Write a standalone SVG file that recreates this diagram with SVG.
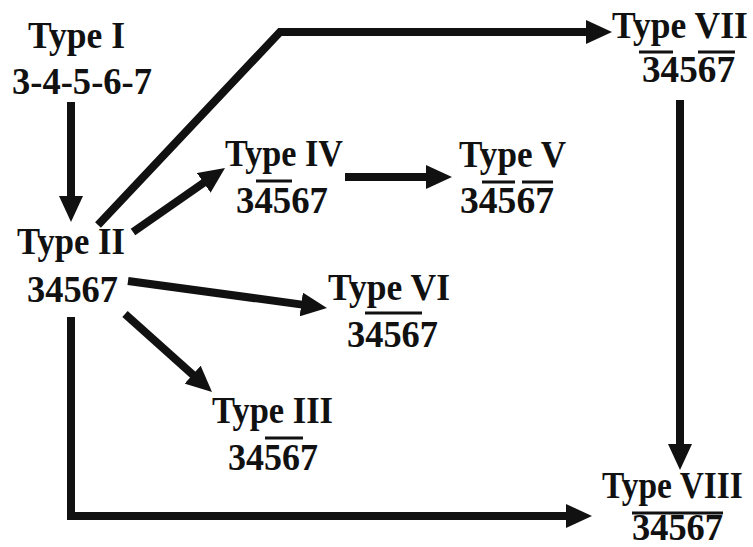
<svg xmlns="http://www.w3.org/2000/svg" width="753" height="547" viewBox="0 0 753 547">
<style>
text{font-family:"Liberation Serif","Times New Roman",serif;font-weight:bold;font-size:38px;fill:#111}
.ol{stroke:#111;stroke-width:3;fill:none}
.c{stroke:#111;stroke-width:8;fill:none;marker-end:url(#ah)}
</style>
<defs>
<marker id="ah" markerUnits="userSpaceOnUse" markerWidth="26" markerHeight="24" viewBox="0 0 26 24" refX="1" refY="12" orient="auto">
<path d="M0,0 L26,12 L0,24 z" fill="#111"/>
</marker>
</defs>
<rect width="753" height="547" fill="#fff"/>
<g id="connectors">
<path class="c" d="M71,102 L71,197"/>
<path class="c" d="M98,225 L280,32 L587,32"/>
<path class="c" d="M133,232 L204.5,182.3"/>
<path class="c" d="M345,177 L427,177"/>
<path class="c" d="M128,281 L302.2,304.6"/>
<path class="c" d="M125,314 L193.4,375.3"/>
<path class="c" d="M71,317 L71,516 L567,516"/>
<path class="c" d="M680,100 L680,445"/>
</g>
<g id="type1">
<text x="28" y="48" textLength="97" lengthAdjust="spacingAndGlyphs">Type I</text>
<text x="12" y="94" textLength="140" lengthAdjust="spacingAndGlyphs">3-4-5-6-7</text>
</g>
<g id="type2">
<text x="17" y="254" textLength="108" lengthAdjust="spacingAndGlyphs">Type II</text>
<text x="27" y="302" textLength="91" lengthAdjust="spacingAndGlyphs">34567</text>
</g>
<g id="type4">
<text x="225" y="166" textLength="118" lengthAdjust="spacingAndGlyphs">Type IV</text>
<text x="236" y="213" textLength="92" lengthAdjust="spacingAndGlyphs">34567</text>
<path class="ol" d="M256,181 H292"/>
</g>
<g id="type5">
<text x="459" y="167" textLength="107" lengthAdjust="spacingAndGlyphs">Type V</text>
<text x="460" y="213" textLength="94" lengthAdjust="spacingAndGlyphs">34567</text>
<path class="ol" d="M482,182 H515 M522,182 H553"/>
</g>
<g id="type6">
<text x="328" y="300" textLength="122" lengthAdjust="spacingAndGlyphs">Type VI</text>
<text x="347" y="347" textLength="91" lengthAdjust="spacingAndGlyphs">34567</text>
<path class="ol" d="M365,313 H422"/>
</g>
<g id="type3">
<text x="212" y="423" textLength="121" lengthAdjust="spacingAndGlyphs">Type III</text>
<text x="228" y="470" textLength="90" lengthAdjust="spacingAndGlyphs">34567</text>
<path class="ol" d="M265,438 H303"/>
</g>
<g id="type7">
<text transform="translate(612,38) scale(0.935,1)">Type VII</text>
<text x="642" y="82" textLength="93" lengthAdjust="spacingAndGlyphs">34567</text>
<path class="ol" d="M639,52 H673 M698,52 H735"/>
</g>
<g id="type8">
<text transform="translate(602,498) scale(0.88,1)">Type VIII</text>
<text x="632" y="540" textLength="91" lengthAdjust="spacingAndGlyphs">34567</text>
<path class="ol" d="M632,513 H723"/>
</g>
</svg>
